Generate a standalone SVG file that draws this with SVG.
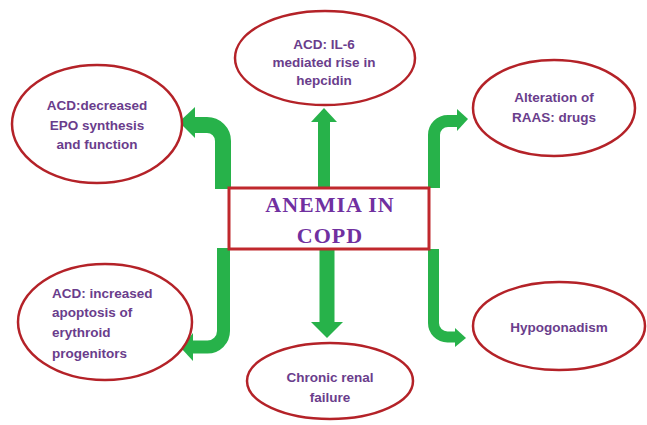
<svg xmlns="http://www.w3.org/2000/svg" width="647" height="425" viewBox="0 0 647 425">
<style>
.bg{fill:#ffffff}
.ell{fill:#ffffff;stroke:#b42228;stroke-width:2.5}
.lbl{font-family:"Liberation Sans",Arial,sans-serif;font-weight:bold;font-size:13.5px;fill:#6a3d8c}
.mid{text-anchor:middle}
.title{font-family:"Liberation Serif","Times New Roman",serif;font-weight:bold;font-size:22px;fill:#7030a0;text-anchor:middle;letter-spacing:1px}
.bar{fill:none;stroke:#27b24a}
.head{fill:#27b24a}
.box{fill:#ffffff;stroke:#c0282d;stroke-width:3}
</style>
<rect class="bg" x="0" y="0" width="647" height="425"/>
<g id="connectors">
  <path class="bar" stroke-width="16" d="M223,189 V141 A16,16 0 0 0 207,125 H194"/>
  <polygon class="head" points="195,107 195,138 179,122"/>
  <path class="bar" stroke-width="13" d="M223.5,248 V331 A16,16 0 0 1 207.5,347 H192"/>
  <polygon class="head" points="193,333 193,361 181,348"/>
  <path class="bar" stroke-width="12" d="M434,188 V135 A14,14 0 0 1 448,121 H458"/>
  <polygon class="head" points="457,109 457,131 468,119"/>
  <path class="bar" stroke-width="11" d="M433.5,249 V323 A14,14 0 0 0 447.5,337 H456"/>
  <polygon class="head" points="455,328 455,347 466,338"/>
  <path class="bar" stroke-width="12" d="M324,187 V121"/>
  <polygon class="head" points="311,122 337,122 324,108"/>
  <path class="bar" stroke-width="15" d="M327,250 V323"/>
  <polygon class="head" points="311,322 343,322 327,338"/>
</g>
<g id="center">
  <rect class="box" x="229" y="188" width="200" height="61"/>
  <text class="title" x="330" y="212">ANEMIA IN</text>
  <text class="title" x="330" y="243">COPD</text>
</g>
<g id="top">
  <ellipse class="ell" cx="325" cy="58" rx="90" ry="47"/>
  <text class="lbl mid" x="324" y="49">ACD: IL-6</text>
  <text class="lbl mid" x="324" y="67">mediated rise in</text>
  <text class="lbl mid" x="324" y="85">hepcidin</text>
</g>
<g id="upper-left">
  <ellipse class="ell" cx="97" cy="124" rx="85" ry="59"/>
  <text class="lbl mid" x="97" y="110">ACD:decreased</text>
  <text class="lbl mid" x="97" y="130">EPO synthesis</text>
  <text class="lbl mid" x="97" y="149">and function</text>
</g>
<g id="upper-right">
  <ellipse class="ell" cx="554" cy="108" rx="81" ry="48"/>
  <text class="lbl mid" x="554" y="102">Alteration of</text>
  <text class="lbl mid" x="554" y="122">RAAS: drugs</text>
</g>
<g id="lower-left">
  <ellipse class="ell" cx="105" cy="322" rx="87" ry="58"/>
  <text class="lbl" x="52" y="298">ACD: increased</text>
  <text class="lbl" x="52" y="317">apoptosis of</text>
  <text class="lbl" x="52" y="337">erythroid</text>
  <text class="lbl" x="52" y="358">progenitors</text>
</g>
<g id="lower-right">
  <ellipse class="ell" cx="559" cy="326" rx="86" ry="44"/>
  <text class="lbl mid" x="559" y="332">Hypogonadism</text>
</g>
<g id="bottom">
  <ellipse class="ell" cx="330" cy="381" rx="83" ry="38"/>
  <text class="lbl mid" x="330" y="382">Chronic renal</text>
  <text class="lbl mid" x="330" y="402">failure</text>
</g>
</svg>
